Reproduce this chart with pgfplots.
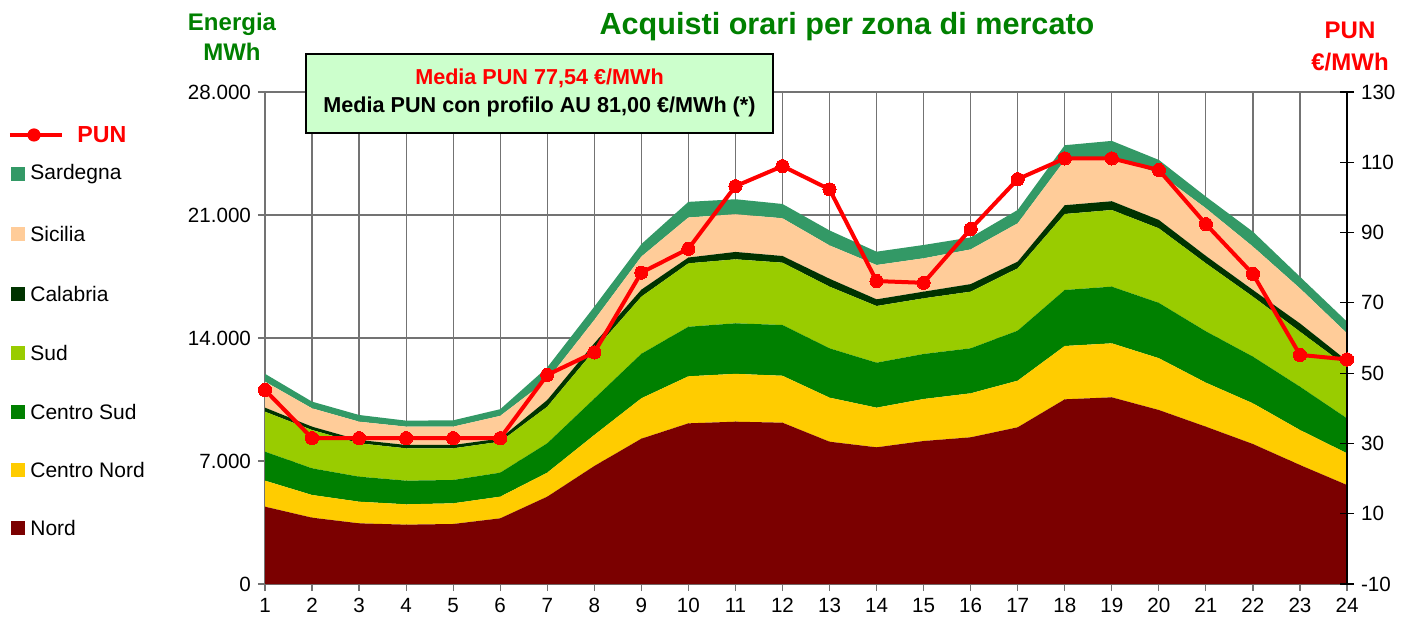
\documentclass[border=0pt]{standalone}
\usepackage{fontspec}
\setmainfont{Liberation Sans}
\usepackage{pgfplots}
\usepackage{pgfplotstable}
\pgfplotsset{compat=1.18}
\definecolor{cNord}{HTML}{7B0000}
\definecolor{cCN}{HTML}{FFCC00}
\definecolor{cCS}{HTML}{008000}
\definecolor{cSud}{HTML}{99CC00}
\definecolor{cCal}{HTML}{003300}
\definecolor{cSic}{HTML}{FFCC99}
\definecolor{cSar}{HTML}{339966}
\definecolor{cBox}{HTML}{CCFFCC}
\definecolor{cTitle}{HTML}{008000}
\pgfplotstableread{
h  nord  cn    cs    sud   cal  sic   sar  pun
1  4400  1480  1650  2276  230  1480  446  45.2
2  3775  1290  1518  2181  190  1043  381  31.5
3  3452  1233  1423  1900  190  1040  381  31.5
4  3377  1158  1345  1842  190  1043  341  31.5
5  3415  1177  1327  1803  190  1043  360  31.5
6  3737  1233  1365  1763  180  1290  380  31.5
7  4970  1365  1673  2082  380  1138  720  49.5
8  6715  1765  2070  2750  400  1325  757  55.9
9  8270  2298  2532  3252  400  1880  710  78.6
10 9143  2677  2820  3610  330  2277  890  85.4
11 9237  2723  2875  3643  420  2145  854  103.2
12 9180  2670  2890  3547  380  2146  814  108.9
13 8098  2507  2807  3510  450  1896  853  102.3
14 7779  2256  2559  3226  381  1953  758  76.2
15 8138  2390  2562  3168  380  1898  758  75.7
16 8348  2503  2561  3225  430  1974  683  91.0
17 8918  2653  2846  3550  380  2182  759  105.2
18 10510 3035  3187  4325  500  2561  853  111.1
19 10624 3072  3226  4362  500  2485  948  111.1
20 9902  2948  3150  4240  480  2656  758  107.8
21 8953  2504  2923  3870  420  2713  662  92.4
22 7967  2315  2658  3412  380  2468  850  78.2
23 6772  1992  2466  3130  470  1993  662  55.2
24 5634  1803  1990  2940  340  1558  664  53.9
}\data
\begin{document}
\begin{tikzpicture}
\useasboundingbox (-132.5pt,-18.5pt) rectangle (573.5pt,292pt);
\begin{axis}[
  at={(0,0)}, anchor=south west, scale only axis,
  width=541pt, height=246pt,
  xmin=1, xmax=24, ymin=0, ymax=28000,
  xtick={1,...,24}, ytick={0,7000,...,28000},
  axis x line*=bottom, axis y line*=left,
  grid=major, major grid style={black!55, line width=0.6pt},
  axis line style={black!55, line width=0.6pt},
  tick style={black!55, line width=0.6pt},
  tick align=outside, major tick length=3.5pt,
  scaled y ticks=false,
  /pgf/number format/assume math mode=true,
  yticklabel style={/pgf/number format/.cd, fixed, 1000 sep={.}},
  ticklabel style={font=\fontsize{10.3}{12}\selectfont},
  stack plots=y,
]
\addplot[fill=cNord, draw=none] table[x=h,y=nord] {\data} \closedcycle;
\addplot[fill=cCN, draw=none] table[x=h,y=cn] {\data} \closedcycle;
\addplot[fill=cCS, draw=none] table[x=h,y=cs] {\data} \closedcycle;
\addplot[fill=cSud, draw=none] table[x=h,y=sud] {\data} \closedcycle;
\addplot[fill=cCal, draw=none] table[x=h,y=cal] {\data} \closedcycle;
\addplot[fill=cSic, draw=none] table[x=h,y=sic] {\data} \closedcycle;
\addplot[fill=cSar, draw=none] table[x=h,y=sar] {\data} \closedcycle;
\end{axis}
\begin{axis}[
  at={(0,0)}, anchor=south west, scale only axis,
  width=541pt, height=246pt,
  xmin=1, xmax=24, ymin=-10, ymax=130,
  ytick={-10,10,...,130},
  axis x line=none, axis y line*=right,
  axis line style={black, line width=0.6pt},
  tick style={black, line width=0.6pt},
  tick align=center, major tick length=7pt,
  /pgf/number format/assume math mode=true,
  ticklabel style={font=\fontsize{10.3}{12}\selectfont},
]
\addplot[red, line width=2pt, mark=*, mark size=3.3pt, mark options={fill=red, draw=red, line width=0pt}] table[x=h,y=pun] {\data};
\end{axis}
% titles
\node[font=\fontsize{15.3}{18}\selectfont\bfseries, text=cTitle] at (291pt,278.5pt) {Acquisti orari per zona di mercato};
\node[font=\fontsize{12}{15}\selectfont\bfseries, text=cTitle, align=center] at (-16.5pt,273.5pt) {Energia\\MWh};
\node[font=\fontsize{12}{16}\selectfont\bfseries, text=red, align=center] at (542.5pt,269pt) {PUN\\€/MWh};
% box
\draw[fill=cBox, draw=black, line width=1pt] (20.5pt,225.5pt) rectangle (254pt,265pt);
\node[font=\fontsize{10.8}{13}\selectfont\bfseries, text=red] at (137.25pt,253pt) {Media PUN 77,54 €/MWh};
\node[font=\fontsize{10.8}{13}\selectfont\bfseries, text=black] at (137.25pt,238.5pt) {Media PUN con profilo AU 81,00 €/MWh (*)};
% legend
\draw[red, line width=2pt] (-127.5pt,224.5pt) -- (-101.5pt,224.5pt);
\fill[red] (-115.5pt,224.5pt) circle (3.3pt);
\node[anchor=west, font=\fontsize{11.6}{14}\selectfont\bfseries, text=red, inner sep=0pt] at (-94pt,224.5pt) {PUN};
\foreach \c/\t/\y in {cSar/Sardegna/205, cSic/Sicilia/175, cCal/Calabria/145, cSud/Sud/115.5, cCS/Centro Sud/86, cCN/Centro Nord/57, cNord/Nord/28} {
  \fill[\c] (-127pt,\y pt-3.5pt) rectangle (-120pt,\y pt+3.5pt);
  \node[anchor=west, font=\fontsize{10.5}{13}\selectfont, inner sep=0pt] at (-117.5pt,\y pt) {\t};
}
\end{tikzpicture}
\end{document}
